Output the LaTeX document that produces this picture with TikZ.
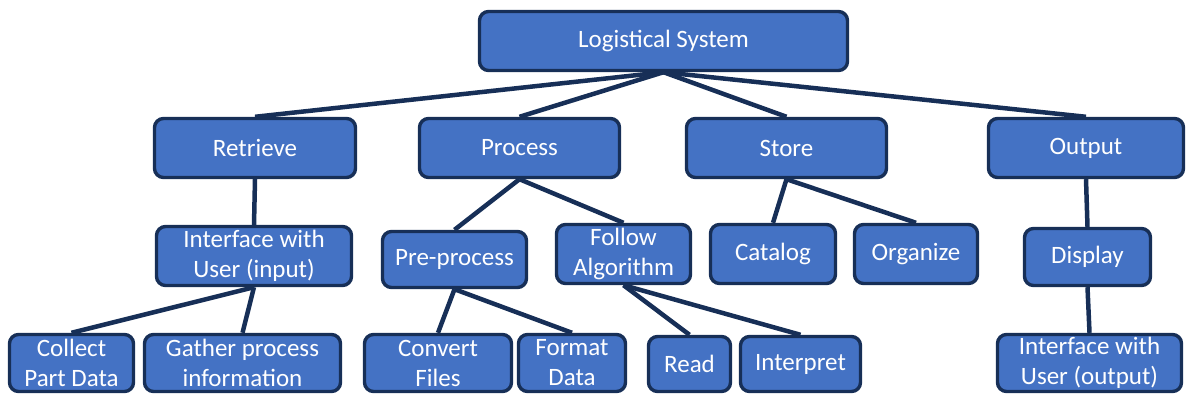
\documentclass[tikz,border=0pt]{standalone}
\usepackage{fontspec}
\setmainfont{Carlito}
\usetikzlibrary{backgrounds}
\definecolor{boxfill}{HTML}{4472C4}
\definecolor{navy}{HTML}{172F57}
\tikzset{
  box/.style={draw=navy, fill=boxfill, line width=3.4pt, rounded corners=9pt,
    text=white, align=center, inner sep=0pt,
    font=\fontsize{25}{30}\selectfont},
  link/.style={draw=navy, line width=4.5pt}
}
\begin{document}
\begin{tikzpicture}[x=1pt,y=-1pt]
\useasboundingbox (0,0) rectangle (1188,396);
% root
\node[box, minimum width=368, minimum height=59] (root) at (663.5,41) {Logistical System};
% first level
\node[box, minimum width=201, minimum height=59] (retrieve) at (255,148) {Retrieve};
\node[box, minimum width=200, minimum height=59] (process) at (519.5,148) {Process};
\node[box, minimum width=200, minimum height=59] (store) at (786.5,148) {Store};
\node[box, minimum width=195, minimum height=59] (output) at (1086,148) {Output};
% second level
\node[box, minimum width=195, minimum height=59] (ifin) at (254,256) {Interface with\\User (input)};
\node[box, minimum width=144, minimum height=56] (pre) at (454.5,259.5) {Pre-process};
\node[box, minimum width=134, minimum height=59] (follow) at (623.5,254) {Follow\\Algorithm};
\node[box, minimum width=125, minimum height=59] (catalog) at (773,254) {Catalog};
\node[box, minimum width=123, minimum height=59] (organize) at (916,254) {Organize};
\node[box, minimum width=126, minimum height=57] (display) at (1087.5,257) {Display};
% third level
\node[box, minimum width=124, minimum height=57] (collect) at (71.5,363) {Collect\\Part Data};
\node[box, minimum width=196, minimum height=57] (gather) at (242.5,363) {Gather process\\information};
\node[box, minimum width=147, minimum height=57] (convert) at (438,363) {Convert\\Files};
\node[box, minimum width=107, minimum height=57] (format) at (572,363) {Format\\Data};
\node[box, minimum width=82, minimum height=55] (read) at (689.5,364) {Read};
\node[box, minimum width=120, minimum height=55] (interpret) at (800.5,364) {Interpret};
\node[box, minimum width=184, minimum height=57] (ifout) at (1089.5,363) {Interface with\\User (output)};
% connectors
\begin{pgfonlayer}{background}
\draw[link] (root.south) -- (retrieve.north);
\draw[link] (root.south) -- (process.north);
\draw[link] (root.south) -- (store.north);
\draw[link] (root.south) -- (output.north);
\draw[link] (retrieve.south) -- (ifin.north);
\draw[link] (process.south) -- (pre.north);
\draw[link] (process.south) -- (follow.north);
\draw[link] (store.south) -- (catalog.north);
\draw[link] (store.south) -- (organize.north);
\draw[link] (output.south) -- (display.north);
\draw[link] (ifin.south) -- (collect.north);
\draw[link] (ifin.south) -- (gather.north);
\draw[link] (pre.south) -- (convert.north);
\draw[link] (pre.south) -- (format.north);
\draw[link] (follow.south) -- (read.north);
\draw[link] (follow.south) -- (interpret.north);
\draw[link] (display.south) -- (ifout.north);
\end{pgfonlayer}
\end{tikzpicture}
\end{document}
